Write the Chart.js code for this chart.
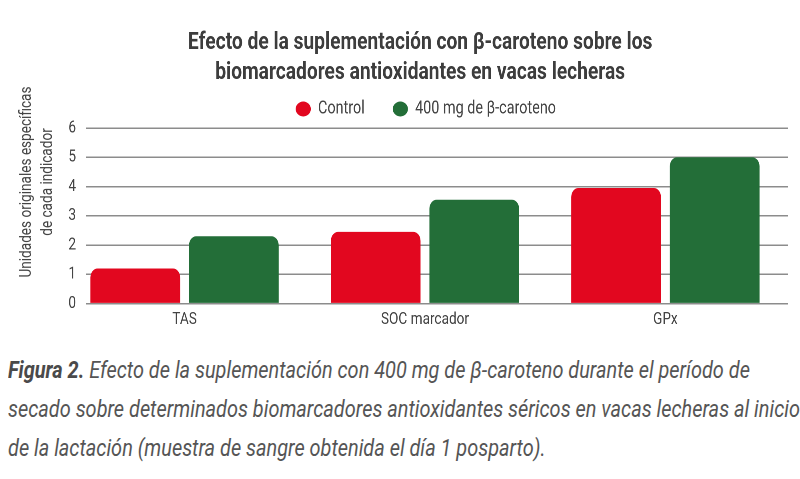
<!DOCTYPE html>
<html>
<head>
<meta charset="utf-8">
<script src="https://cdn.jsdelivr.net/npm/chart.js@4"></script>
<style>
  body { margin: 0; background: #fff; width: 800px; height: 479px; overflow: hidden; font-family: Roboto, "Liberation Sans", sans-serif; }
  #wrap { position: relative; width: 800px; height: 340px; }
  /* the source uses a condensed face; draw on a wider canvas and squeeze it */
  #squeeze { width: 1000px; height: 340px; transform: scaleX(0.8); transform-origin: 0 0; }
  #ytitle {
    position: absolute; left: -89px; top: 161px; width: 250px; height: 42px;
    text-align: center; font-size: 17px; line-height: 21px; color: #444;
    transform: rotate(-90deg) scaleX(0.8); white-space: nowrap;
  }
  #caption {
    margin: 11px 0 0 8px; width: 1000px;
    font-style: italic; font-size: 24px; line-height: 39px; color: #555;
    white-space: nowrap; transform: scaleX(0.83); transform-origin: 0 0;
  }
  #caption b { color: #4a4a4a; }
</style>
</head>
<body>
<div id="wrap">
  <div id="squeeze"><canvas id="chart"></canvas></div>
  <div id="ytitle">Unidades originales específicas<br>de cada indicador</div>
</div>
<div id="caption"><b>Figura 2.</b> Efecto de la suplementación con 400 mg de β-caroteno durante el período de<br>secado sobre determinados biomarcadores antioxidantes séricos en vacas lecheras al inicio<br>de la lactación (muestra de sangre obtenida el día 1 posparto).</div>
<script>
const categories = ['TAS', 'SOC marcador', 'GPx'];
const controlValues = [1.2, 2.45, 3.95];
const caroteneValues = [2.3, 3.55, 5.0];
const seriesNames = ['Control', '400 mg de β-caroteno'];
const titleLines = ['Efecto de la suplementación con β-caroteno sobre los', 'biomarcadores antioxidantes en vacas lecheras'];
const yTicks = [0, 1, 2, 3, 4, 5, 6];

const font = 'Roboto, "Liberation Sans", sans-serif';
const textColor = '#444';

// title and legend sit a bit left of the plot centre in the original
const nudgeHeader = {
    id: 'nudgeHeader',
    afterLayout(chart) {
        if (chart.titleBlock) { chart.titleBlock.left -= 21; chart.titleBlock.right -= 21; }
        if (chart.legend) { chart.legend.left -= 14; chart.legend.right -= 14; }
    }
};

new Chart(document.getElementById('chart').getContext('2d'), {
    type: 'bar',
    data: {
        datasets: [{
            label: seriesNames[0],
            data: controlValues.map((v, i) => ({ x: i, y: v })),
            backgroundColor: '#E2071F',
            borderRadius: 9
        }, {
            label: seriesNames[1],
            data: caroteneValues.map((v, i) => ({ x: i, y: v })),
            backgroundColor: '#236E38',
            borderRadius: 9
        }]
    },
    options: {
        responsive: true,
        maintainAspectRatio: false,
        animation: false,
        devicePixelRatio: 2,
        categoryPercentage: 0.82,
        barPercentage: 0.91,
        layout: { padding: { left: 0, right: 15, top: 0, bottom: 4 } },
        plugins: {
            title: {
                display: true,
                fullSize: false,
                text: titleLines,
                color: '#3d3d3d',
                font: { family: font, size: 24, weight: 'bold', lineHeight: 30 / 24 },
                padding: { top: 28, bottom: -23 }
            },
            legend: {
                fullSize: false,
                labels: {
                    usePointStyle: true,
                    pointStyle: 'circle',
                    pointStyleWidth: 19,
                    boxHeight: 10.6,
                    color: textColor,
                    padding: 35,
                    font: { family: font, size: 18 }
                }
            },
            tooltip: { enabled: false }
        },
        scales: {
            x: {
                type: 'linear',
                offset: false,
                min: -0.41,
                max: 2.51,
                grid: { display: false, drawTicks: false },
                border: { display: false },
                afterBuildTicks: (scale) => { scale.ticks = categories.map((c, i) => ({ value: i })); },
                ticks: {
                    color: textColor,
                    font: { family: font, size: 17 },
                    padding: 6,
                    maxRotation: 0,
                    callback: (v) => categories[v]
                }
            },
            y: {
                min: 0,
                max: 6,
                afterFit: (scale) => { scale.width = 107.5; },
                afterBuildTicks: (scale) => { scale.ticks = yTicks.map(v => ({ value: v })); },
                ticks: { color: textColor, font: { family: font, size: 17 }, padding: 12.5 },
                grid: { color: '#8c8c8c', lineWidth: 1.5, drawTicks: false },
                border: { display: false }
            }
        }
    },
    plugins: [nudgeHeader]
});
</script>
</body>
</html>
